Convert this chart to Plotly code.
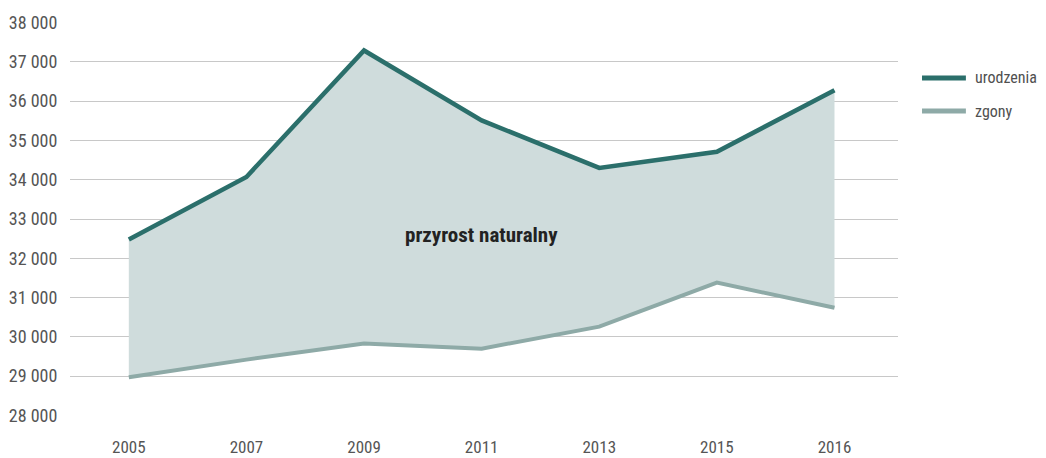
import plotly.graph_objects as go

years = ["2005", "2007", "2009", "2011", "2013", "2015", "2016"]
urodzenia = [32480, 34070, 37290, 35510, 34300, 34710, 36280]
zgony = [28970, 29420, 29830, 29700, 30260, 31380, 30740]
series_names = ["urodzenia", "zgony"]
label_text = "przyrost naturalny"
label_year = "2011"
label_value = 32600

FONT = "Liberation Sans Narrow, Roboto Condensed, Arial Narrow, sans-serif"
C_URO = "#2b6f6b"
C_ZG = "#8eaaa7"
C_FILL = "#cfdcdc"
colors = [C_URO, C_ZG]
widths = [4.5, 4]

fig = go.Figure()
fig.add_trace(go.Scatter(x=years, y=zgony, mode="lines", line=dict(width=0, color=C_FILL),
                         showlegend=False, hoverinfo="skip"))
fig.add_trace(go.Scatter(x=years, y=urodzenia, mode="lines", line=dict(width=0, color=C_FILL),
                         fill="tonexty", fillcolor=C_FILL, showlegend=False, hoverinfo="skip"))
for name, vals, c, w in zip(series_names, [urodzenia, zgony], colors, widths):
    fig.add_trace(go.Scatter(x=years, y=vals, mode="lines", name=name,
                             line=dict(width=w, color=c), showlegend=False))

fig.add_annotation(x=years.index(label_year), y=label_value, xref="x", yref="y",
                   text="<b>" + label_text + "</b>", showarrow=False,
                   font=dict(family=FONT, size=21, color="#222222"))

# manual legend
leg_y = [0.858, 0.774]
for name, c, yy in zip(series_names, colors, leg_y):
    fig.add_shape(type="line", xref="paper", yref="paper", x0=1.029, x1=1.082, y0=yy, y1=yy,
                  line=dict(color=c, width=5))
    fig.add_annotation(xref="paper", yref="paper", x=1.0906, y=yy, xanchor="left", yanchor="middle",
                       text=name, showarrow=False, font=dict(family=FONT, size=16, color="#505050"))

fig.update_layout(
    width=1046, height=458,
    margin=dict(l=62, r=156, t=14, b=50),
    paper_bgcolor="white", plot_bgcolor="white",
    separators=", ",
    font=dict(family=FONT, size=17, color="#555555"),
    showlegend=False,
    xaxis=dict(type="category", range=[-0.5, 6.54], showgrid=False, showline=False, automargin=False,
               ticks="outside", ticklen=16, tickcolor="rgba(0,0,0,0)", zeroline=False,
               tickfont=dict(size=17, color="#555555")),
    yaxis=dict(range=[27985, 38015], tickvals=list(range(28000, 38001, 1000)), tickformat=",d",
               showgrid=True, gridcolor="#c8c8c8", gridwidth=1.3, zeroline=False, showline=False,
               automargin=False,
               ticks="outside", ticklen=8, tickcolor="rgba(0,0,0,0)",
               tickfont=dict(size=18, color="#555555")),
)

fig.write_html("out.html")
